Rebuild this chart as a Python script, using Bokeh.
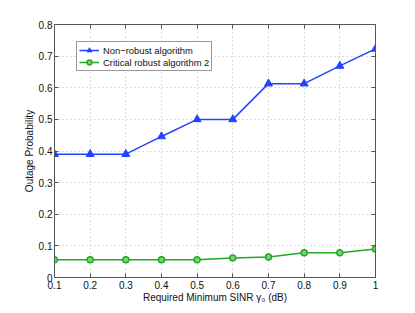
from bokeh.plotting import figure
from bokeh.models import Range1d, LinearAxis, FixedTicker, Legend, LegendItem, CustomLabelingPolicy
from bokeh.embed import file_html
from bokeh.resources import INLINE

x_vals = [0.1, 0.2, 0.3, 0.4, 0.5, 0.6, 0.7, 0.8, 0.9, 1.0]
non_robust = [0.39, 0.39, 0.39, 0.446, 0.50, 0.50, 0.613, 0.613, 0.669, 0.723]
critical_robust = [0.056, 0.056, 0.056, 0.056, 0.056, 0.062, 0.065, 0.078, 0.078, 0.090]
x_ticks = [0.1, 0.2, 0.3, 0.4, 0.5, 0.6, 0.7, 0.8, 0.9, 1.0]
y_ticks = [0, 0.1, 0.2, 0.3, 0.4, 0.5, 0.6, 0.7, 0.8]
series_names = ["Non\u2212robust algorithm", "Critical robust algorithm 2"]

FONT = "Liberation Sans"
AX = "#555555"

p = figure(width=407, height=305, output_backend="svg", toolbar_location=None,
           x_range=Range1d(0.1, 1.0), y_range=Range1d(0, 0.8),
           min_border_left=54, min_border_right=32, min_border_top=24, min_border_bottom=27)
p.outline_line_color = AX
p.outline_line_width = 1
p.background_fill_color = "white"
p.border_fill_color = "white"

for ax in [p.xaxis[0], p.yaxis[0]]:
    ax.major_tick_in = 4
    ax.major_tick_out = 0
    ax.minor_tick_in = 0
    ax.minor_tick_out = 0
    ax.axis_line_color = AX
    ax.major_tick_line_color = AX
    ax.major_label_text_font = FONT
    ax.major_label_text_font_size = "10px"
    ax.major_label_text_color = "#111111"
    ax.axis_label_text_font = FONT
    ax.axis_label_text_font_size = "10px"
    ax.axis_label_text_font_style = "normal"
    ax.axis_label_text_color = "#111111"

p.xaxis[0].ticker = FixedTicker(ticks=x_ticks)
p.yaxis[0].ticker = FixedTicker(ticks=y_ticks)
p.xaxis[0].major_label_overrides = {1.0: "1", 1: "1"}
p.yaxis[0].major_label_overrides = {0: "0"}
p.xaxis[0].axis_label = "Required Minimum SINR \u03b3\u2080 (dB)"
p.yaxis[0].axis_label = "Outage Probability"
p.xaxis[0].major_label_standoff = 3
p.xaxis[0].axis_label_standoff = 0
p.yaxis[0].major_label_standoff = 2
p.yaxis[0].axis_label_standoff = 1

top_ax = LinearAxis(ticker=FixedTicker(ticks=x_ticks),
                    major_label_policy=CustomLabelingPolicy(code="return new Set()"),
                    major_tick_in=4, major_tick_out=0, minor_tick_in=0, minor_tick_out=0,
                    axis_line_color=AX, major_tick_line_color=AX, major_label_standoff=0)
right_ax = LinearAxis(ticker=FixedTicker(ticks=y_ticks),
                      major_label_policy=CustomLabelingPolicy(code="return new Set()"),
                      major_tick_in=4, major_tick_out=0, minor_tick_in=0, minor_tick_out=0,
                      axis_line_color=AX, major_tick_line_color=AX, major_label_standoff=0)
p.add_layout(top_ax, "above")
p.add_layout(right_ax, "right")

for g in [p.xgrid[0], p.ygrid[0]]:
    g.grid_line_color = "#bbbbbb"
    g.grid_line_dash = "1 3"
    g.grid_line_width = 1
p.xgrid[0].ticker = FixedTicker(ticks=x_ticks)
p.ygrid[0].ticker = FixedTicker(ticks=y_ticks)

BLUE = "#2443ff"
GREEN = "#1faa1f"

l1 = p.line(x_vals, non_robust, line_color=BLUE, line_width=1.5)
m1 = p.scatter(x_vals, non_robust, marker="triangle", size=8, fill_color=BLUE, line_color=BLUE)
l2 = p.line(x_vals, critical_robust, line_color=GREEN, line_width=1.5)
m2 = p.scatter(x_vals, critical_robust, marker="circle", size=6, fill_color="#7ad27a",
               line_color=GREEN, line_width=1.5)

legend = Legend(items=[LegendItem(label=series_names[0], renderers=[l1, m1]),
                       LegendItem(label=series_names[1], renderers=[l2, m2])],
                location=(22, 206))
legend.label_text_font = FONT
legend.label_text_font_size = "9.4px"
legend.label_text_color = "#111111"
legend.glyph_width = 20
legend.glyph_height = 12
legend.label_height = 12
legend.label_standoff = 4
legend.spacing = 0
legend.padding = 2
legend.margin = 0
legend.border_line_color = "#333333"
legend.border_line_width = 1
legend.background_fill_color = "white"
legend.background_fill_alpha = 1
p.add_layout(legend, "center")

open("out.html", "w").write(file_html(p, INLINE))
